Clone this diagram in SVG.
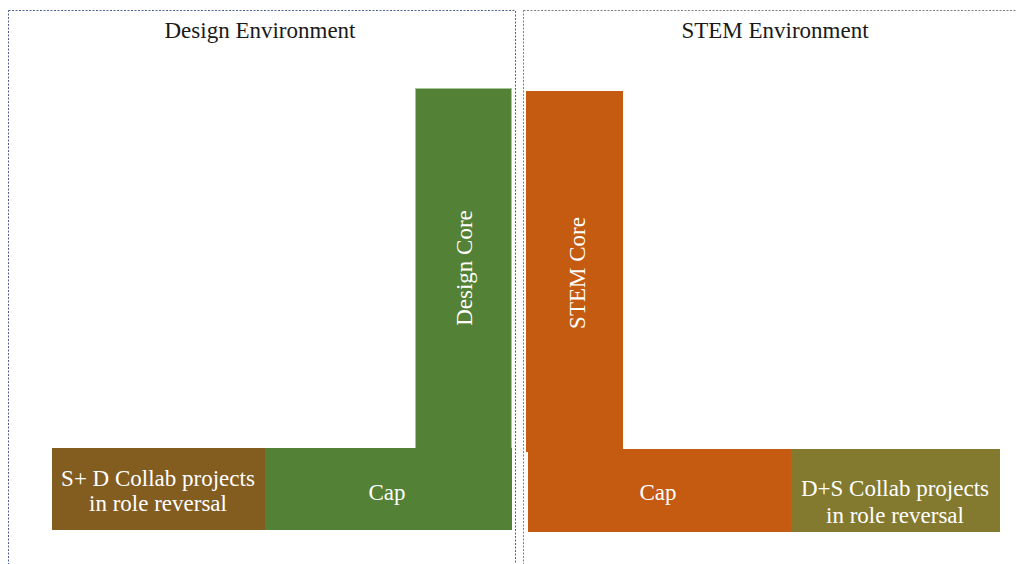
<svg xmlns="http://www.w3.org/2000/svg" width="1016" height="564" viewBox="0 0 1016 564">
  <style>
    .env { fill: none; stroke-width: 1; stroke-dasharray: 2 1.5; }
    .title { font-family: "Liberation Serif", "Times New Roman", serif; font-size: 23px; fill: #1a1a1a; text-anchor: middle; }
    .lbl { font-family: "Liberation Serif", "Times New Roman", serif; font-size: 23px; fill: #ffffff; text-anchor: middle; }
  </style>
  <rect width="1016" height="564" fill="#ffffff"/>

  <!-- environments -->
  <g id="design-env">
    <rect class="env" x="8.5" y="10.5" width="507" height="570" stroke="#4f6490"/>
    <text class="title" x="260" y="38">Design Environment</text>
  </g>
  <g id="stem-env">
    <rect class="env" x="523.5" y="10.5" width="500" height="570" stroke="#7f7f7f"/>
    <text class="title" x="775" y="38">STEM Environment</text>
  </g>

  <!-- design side -->
  <g id="design-core">
    <rect x="415.5" y="88.5" width="96" height="362" fill="#538135" stroke="#a9c49a" stroke-width="1"/>
    <text class="lbl" transform="translate(472,268) rotate(-90)">Design Core</text>
  </g>
  <g id="design-cap">
    <rect x="265" y="448" width="247" height="82" fill="#538135"/>
    <rect x="416" y="440" width="95" height="12" fill="#538135"/>
    <text class="lbl" x="387" y="500">Cap</text>
  </g>
  <g id="sd-collab">
    <rect x="52" y="448" width="213" height="82" fill="#835c20"/>
    <text class="lbl" x="158" y="486">S+ D Collab projects</text>
    <text class="lbl" x="158" y="511">in role reversal</text>
  </g>

  <!-- stem side -->
  <g id="stem-core">
    <rect x="526" y="91" width="97" height="361" fill="#c55a11"/>
    <text class="lbl" transform="translate(585,273) rotate(-90)">STEM Core</text>
  </g>
  <g id="stem-cap">
    <rect x="528" y="449" width="264" height="83" fill="#c55a11"/>
    <text class="lbl" x="658" y="500">Cap</text>
  </g>
  <g id="ds-collab">
    <rect x="791" y="449" width="209" height="83" fill="#837a2f"/>
    <text class="lbl" x="895" y="496">D+S Collab projects</text>
    <text class="lbl" x="895" y="523">in role reversal</text>
  </g>

  <g id="connectors"/>
</svg>
